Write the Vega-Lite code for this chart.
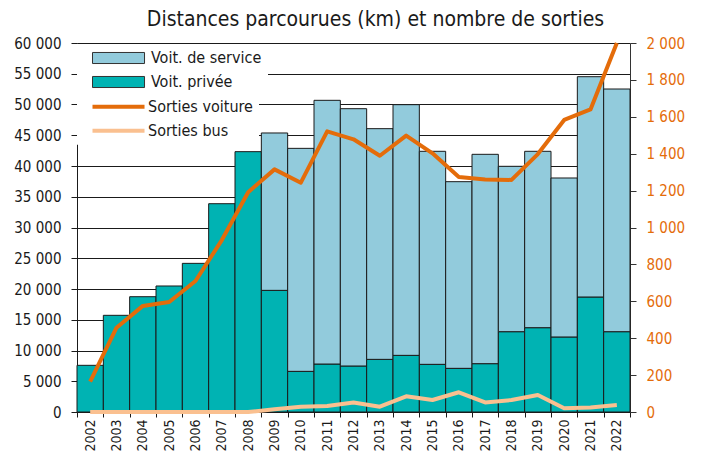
{
  "$schema": "https://vega.github.io/schema/vega-lite/v6.json",
  "width": 553,
  "height": 369,
  "autosize": "none",
  "padding": {"left": 77, "top": 43, "right": 71, "bottom": 41},
  "background": "white",
  "title": {
    "text": "Distances parcourues (km) et nombre de sorties",
    "fontSize": 21,
    "fontWeight": "normal",
    "font": "DejaVu Sans Condensed, sans-serif",
    "color": "#1a1a1a",
    "anchor": "middle",
    "offset": 6,
    "dx": 22
  },
  "config": {
    "view": {"stroke": null},
    "font": "DejaVu Sans Condensed, sans-serif",
    "locale": {
      "number": {"decimal": ",", "thousands": " ", "grouping": [3], "currency": ["", " €"]}
    }
  },
  "datasets": {
    "km": [
      {"annee": "2002", "type": "Voit. privée", "km": 7590},
      {"annee": "2003", "type": "Voit. privée", "km": 15720},
      {"annee": "2004", "type": "Voit. privée", "km": 18750},
      {"annee": "2005", "type": "Voit. privée", "km": 20490},
      {"annee": "2006", "type": "Voit. privée", "km": 24170},
      {"annee": "2007", "type": "Voit. privée", "km": 33870},
      {"annee": "2008", "type": "Voit. privée", "km": 42330},
      {"annee": "2009", "type": "Voit. privée", "km": 19780},
      {"annee": "2009", "type": "Voit. de service", "km": 25590},
      {"annee": "2010", "type": "Voit. privée", "km": 6610},
      {"annee": "2010", "type": "Voit. de service", "km": 36260},
      {"annee": "2011", "type": "Voit. privée", "km": 7800},
      {"annee": "2011", "type": "Voit. de service", "km": 42880},
      {"annee": "2012", "type": "Voit. privée", "km": 7480},
      {"annee": "2012", "type": "Voit. de service", "km": 41840},
      {"annee": "2013", "type": "Voit. privée", "km": 8560},
      {"annee": "2013", "type": "Voit. de service", "km": 37510},
      {"annee": "2014", "type": "Voit. privée", "km": 9210},
      {"annee": "2014", "type": "Voit. de service", "km": 40760},
      {"annee": "2015", "type": "Voit. privée", "km": 7750},
      {"annee": "2015", "type": "Voit. de service", "km": 34640},
      {"annee": "2016", "type": "Voit. privée", "km": 7100},
      {"annee": "2016", "type": "Voit. de service", "km": 30350},
      {"annee": "2017", "type": "Voit. privée", "km": 7860},
      {"annee": "2017", "type": "Voit. de service", "km": 34040},
      {"annee": "2018", "type": "Voit. privée", "km": 13060},
      {"annee": "2018", "type": "Voit. de service", "km": 26890},
      {"annee": "2019", "type": "Voit. privée", "km": 13710},
      {"annee": "2019", "type": "Voit. de service", "km": 28680},
      {"annee": "2020", "type": "Voit. privée", "km": 12200},
      {"annee": "2020", "type": "Voit. de service", "km": 25850},
      {"annee": "2021", "type": "Voit. privée", "km": 18700},
      {"annee": "2021", "type": "Voit. de service", "km": 35820},
      {"annee": "2022", "type": "Voit. privée", "km": 13060},
      {"annee": "2022", "type": "Voit. de service", "km": 39460}
    ],
    "sorties": [
      {"annee": "2002", "serie": "Sorties voiture", "n": 164},
      {"annee": "2003", "serie": "Sorties voiture", "n": 457},
      {"annee": "2004", "serie": "Sorties voiture", "n": 575},
      {"annee": "2005", "serie": "Sorties voiture", "n": 596},
      {"annee": "2006", "serie": "Sorties voiture", "n": 710},
      {"annee": "2007", "serie": "Sorties voiture", "n": 932},
      {"annee": "2008", "serie": "Sorties voiture", "n": 1191},
      {"annee": "2009", "serie": "Sorties voiture", "n": 1315},
      {"annee": "2010", "serie": "Sorties voiture", "n": 1243},
      {"annee": "2011", "serie": "Sorties voiture", "n": 1521},
      {"annee": "2012", "serie": "Sorties voiture", "n": 1478},
      {"annee": "2013", "serie": "Sorties voiture", "n": 1389},
      {"annee": "2014", "serie": "Sorties voiture", "n": 1498},
      {"annee": "2015", "serie": "Sorties voiture", "n": 1402},
      {"annee": "2016", "serie": "Sorties voiture", "n": 1274},
      {"annee": "2017", "serie": "Sorties voiture", "n": 1260},
      {"annee": "2018", "serie": "Sorties voiture", "n": 1258},
      {"annee": "2019", "serie": "Sorties voiture", "n": 1398},
      {"annee": "2020", "serie": "Sorties voiture", "n": 1583},
      {"annee": "2021", "serie": "Sorties voiture", "n": 1640},
      {"annee": "2022", "serie": "Sorties voiture", "n": 2000},
      {"annee": "2002", "serie": "Sorties bus", "n": 0},
      {"annee": "2003", "serie": "Sorties bus", "n": 0},
      {"annee": "2004", "serie": "Sorties bus", "n": 0},
      {"annee": "2005", "serie": "Sorties bus", "n": 0},
      {"annee": "2006", "serie": "Sorties bus", "n": 0},
      {"annee": "2007", "serie": "Sorties bus", "n": 0},
      {"annee": "2008", "serie": "Sorties bus", "n": 0},
      {"annee": "2009", "serie": "Sorties bus", "n": 15},
      {"annee": "2010", "serie": "Sorties bus", "n": 29},
      {"annee": "2011", "serie": "Sorties bus", "n": 32},
      {"annee": "2012", "serie": "Sorties bus", "n": 51},
      {"annee": "2013", "serie": "Sorties bus", "n": 29},
      {"annee": "2014", "serie": "Sorties bus", "n": 85},
      {"annee": "2015", "serie": "Sorties bus", "n": 65},
      {"annee": "2016", "serie": "Sorties bus", "n": 107},
      {"annee": "2017", "serie": "Sorties bus", "n": 52},
      {"annee": "2018", "serie": "Sorties bus", "n": 65},
      {"annee": "2019", "serie": "Sorties bus", "n": 92},
      {"annee": "2020", "serie": "Sorties bus", "n": 20},
      {"annee": "2021", "serie": "Sorties bus", "n": 25},
      {"annee": "2022", "serie": "Sorties bus", "n": 38}
    ]
  },
  "layer": [
    {
      "data": {"name": "km"},
      "mark": {"type": "bar", "stroke": "#1a1a1a", "strokeWidth": 1},
      "encoding": {
        "x": {
          "field": "annee",
          "type": "ordinal",
          "scale": {"paddingInner": 0, "paddingOuter": 0},
          "axis": {
            "title": null,
            "labelAngle": -90,
            "labelAlign": "right",
            "labelBaseline": "middle",
            "tickBand": "extent",
            "labelFontSize": 14,
            "labelColor": "#1a1a1a",
            "domainColor": "#1a1a1a",
            "tickColor": "#1a1a1a",
            "tickSize": 5,
            "labelPadding": 2
          }
        },
        "y": {
          "field": "km",
          "type": "quantitative",
          "stack": "zero",
          "scale": {"domain": [0, 60000], "nice": false},
          "axis": {
            "title": null,
            "values": [0, 5000, 10000, 15000, 20000, 25000, 30000, 35000, 40000, 45000, 50000, 55000, 60000],
            "format": ",d",
            "grid": true,
            "gridColor": "#1a1a1a",
            "gridOpacity": 1,
            "gridWidth": 1,
            "labelFontSize": 15,
            "labelColor": "#1a1a1a",
            "domainColor": "#1a1a1a",
            "tickColor": "#1a1a1a",
            "tickSize": 6,
            "labelPadding": 10
          }
        },
        "fill": {
          "field": "type",
          "type": "nominal",
          "scale": {"domain": ["Voit. de service", "Voit. privée"], "range": ["#92CBDC", "#00B3B3"]},
          "legend": {
            "title": null,
            "orient": "none",
            "legendX": 0,
            "legendY": 1,
            "padding": 6,
            "fillColor": "white",
            "symbolType": "M0.25,-0.92H8.92V0.92H0.25Z",
            "symbolSize": 144,
            "symbolStrokeColor": "#333333",
            "symbolStrokeWidth": 1,
            "symbolOpacity": 1,
            "labelFontSize": 16,
            "labelColor": "#1a1a1a",
            "labelOffset": 52,
            "rowPadding": 8
          }
        },
        "order": {"field": "type", "sort": "descending"}
      }
    },
    {
      "data": {"name": "sorties"},
      "mark": {"type": "line", "strokeWidth": 4, "strokeJoin": "round"},
      "encoding": {
        "x": {"field": "annee", "type": "ordinal"},
        "y": {
          "field": "n",
          "type": "quantitative",
          "scale": {"domain": [0, 2000], "nice": false},
          "axis": {
            "title": null,
            "orient": "right",
            "values": [0, 200, 400, 600, 800, 1000, 1200, 1400, 1600, 1800, 2000],
            "format": ",d",
            "grid": false,
            "labelFontSize": 15,
            "labelColor": "#E46C0A",
            "domainColor": "#333333",
            "tickColor": "#333333",
            "tickSize": 6,
            "labelPadding": 10
          }
        },
        "stroke": {
          "field": "serie",
          "type": "nominal",
          "scale": {"domain": ["Sorties voiture", "Sorties bus"], "range": ["#E46C0A", "#FAC090"]},
          "legend": {
            "title": null,
            "orient": "none",
            "legendX": 0,
            "legendY": 49.7,
            "padding": 6,
            "fillColor": "white",
            "symbolType": "M0.25,0H8.92",
            "symbolSize": 144,
            "symbolStrokeWidth": 4,
            "symbolOpacity": 1,
            "labelFontSize": 16,
            "labelColor": "#1a1a1a",
            "labelOffset": 49,
            "rowPadding": 8
          }
        }
      }
    }
  ],
  "resolve": {"scale": {"y": "independent"}}
}
